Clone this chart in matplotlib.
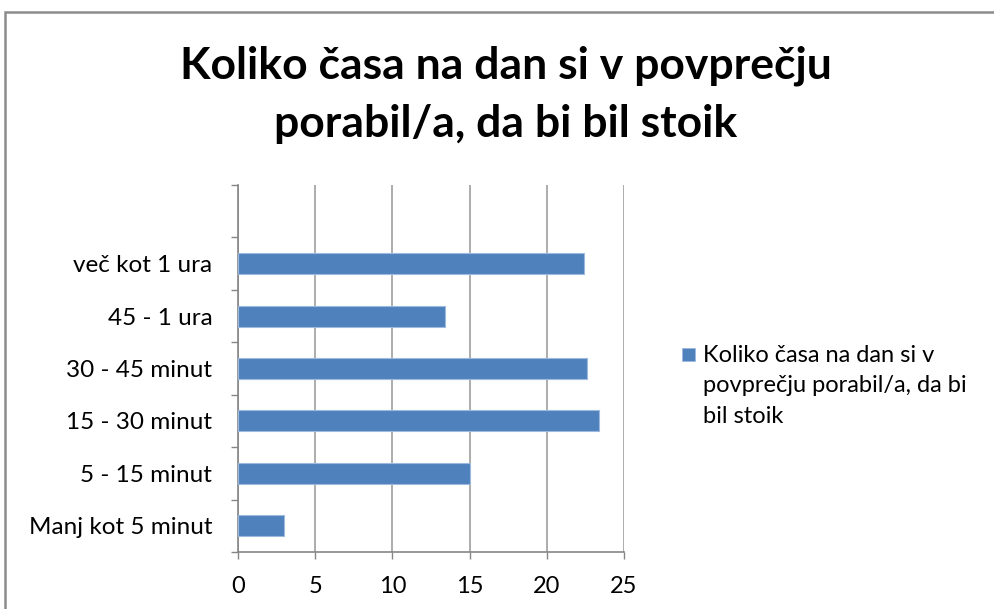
import matplotlib
matplotlib.use('Agg')
import matplotlib.pyplot as plt
from matplotlib.patches import Rectangle
import numpy as np

# chart data
categories = ['Manj kot 5 minut', '5 - 15 minut', '15 - 30 minut',
              '30 - 45 minut', '45 - 1 ura', 'več kot 1 ura']
values = [3.0, 15.0, 23.4, 22.6, 13.4, 22.4]
x_ticks = [0, 5, 10, 15, 20, 25]
title = 'Koliko časa na dan si v povprečju\nporabil/a, da bi bil stoik'
series_name = 'Koliko časa na dan si v\npovprečju porabil/a, da bi\nbil stoik'

plt.rcParams['font.family'] = ['Lato', 'DejaVu Sans']

bar_color = '#4F81BD'
grid_color = '#A6A6A6'
axis_color = '#868686'

fig = plt.figure(figsize=(9.95, 6.09), dpi=100)
ax = fig.add_axes([238/995, 1 - 552/609, (624 - 238)/995, (552 - 185)/609])

pos = np.arange(len(categories))
ax.barh(pos, values, height=0.4, color=bar_color, edgecolor='#9DB9DD',
        linewidth=0.8, zorder=3)

ax.set_xlim(x_ticks[0], x_ticks[-1])
ax.set_ylim(-0.5, len(categories) + 0.5)   # one empty slot on top, like the original

ax.set_xticks(x_ticks)
ax.set_xticklabels([str(t) for t in x_ticks], fontsize=17, color='#000000')
ax.tick_params(axis='x', length=5, width=1, color=axis_color, pad=12)
ax.grid(axis='x', color=grid_color, linewidth=1.3, zorder=0)

# category boundaries get the tick marks, labels sit in the middle of the slots
ax.set_yticks(np.arange(len(categories) + 2) - 0.5)
ax.set_yticklabels([])
ax.set_yticks(pos, minor=True)
ax.set_yticklabels(categories, minor=True, fontsize=17.5)
ax.tick_params(axis='y', which='major', length=5, width=1, color=axis_color, direction='out')
ax.tick_params(axis='y', which='minor', length=0, pad=18.5)

for side in ['top', 'right']:
    ax.spines[side].set_visible(False)
for side in ['left', 'bottom']:
    ax.spines[side].set_color(axis_color)
    ax.spines[side].set_linewidth(1.2)

fig.text(0.508, 1 - 95/609, title, ha='center', va='center', fontsize=32,
         fontweight='bold', linespacing=1.55)

# legend: key square next to the first line of the wrapped series name
fig.patches.append(Rectangle((682/995, 1 - 361/609), 13/995, 13/609,
                             transform=fig.transFigure, facecolor=bar_color,
                             edgecolor='#9DB9DD', linewidth=0.6))
fig.text(703/995, 1 - 345/609, series_name, ha='left', va='top', fontsize=17,
         linespacing=1.55)

# outer chart frame (cut off at right and bottom in the original)
fig.patches.append(Rectangle((5/995, -0.1), 1.2, 1 - 12/609 + 0.1,
                             transform=fig.transFigure, fill=False,
                             edgecolor='#8C8C8C', linewidth=1.8))

fig.savefig('out.png', dpi=100)
